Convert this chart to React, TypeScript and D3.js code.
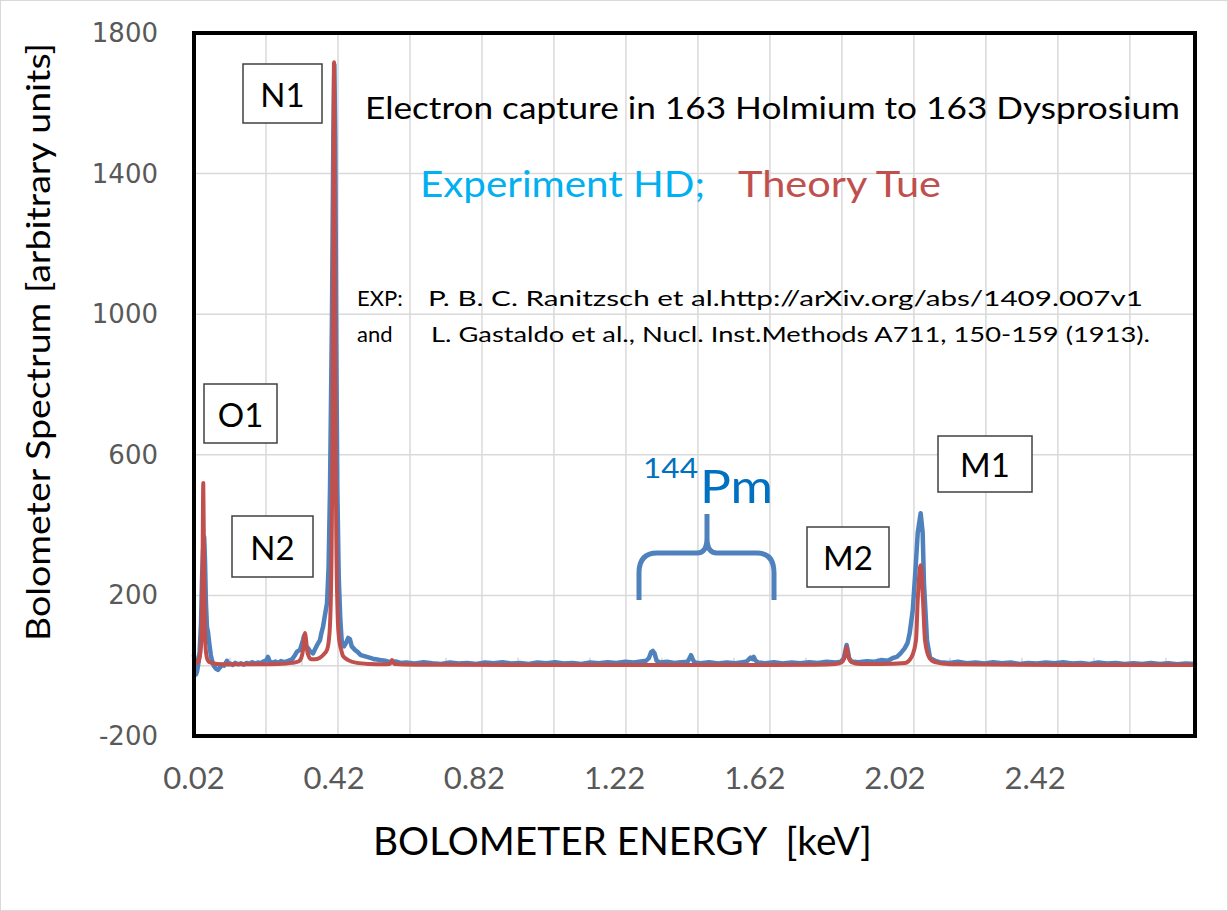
import * as d3 from 'd3';

// Experiment HD (blue) : [energy keV, counts]
const experimentHD: [number, number][] = [
  [0.020, 30], [0.0235, -10], [0.0257, -25], [0.029, -15], [0.033, 10], [0.036, 40],
  [0.040, 120], [0.043, 250], [0.046, 330], [0.049, 366], [0.0514, 300], [0.054, 180],
  [0.057, 110], [0.060, 95], [0.064, 60], [0.068, 30], [0.0714, 15], [0.076, 0],
  [0.082, -8], [0.0885, -12], [0.094, -5], [0.100, 2], [0.106, 0], [0.114, 14],
  [0.118, 4], [0.124, 6], [0.130, 2], [0.138, 8], [0.146, 4], [0.154, 7], [0.162, 3],
  [0.170, 8], [0.178, 5], [0.186, 10], [0.194, 6], [0.202, 9], [0.210, 7], [0.218, 12],
  [0.226, 15], [0.231, 25], [0.236, 12], [0.244, 9], [0.252, 12], [0.260, 8], [0.268, 13],
  [0.276, 10], [0.284, 12], [0.292, 15], [0.300, 18], [0.3025, 22], [0.308, 30],
  [0.314, 40], [0.3224, 45], [0.327, 60], [0.331, 73], [0.334, 85], [0.3367, 70],
  [0.340, 55], [0.3453, 50], [0.352, 40], [0.3595, 35], [0.366, 48], [0.372, 60],
  [0.3795, 73], [0.384, 95], [0.388, 110], [0.393, 140], [0.3995, 178], [0.404, 280],
  [0.408, 500], [0.4137, 1000], [0.4175, 1500], [0.4205, 1710], [0.423, 1500],
  [0.426, 900], [0.429, 500], [0.433, 250], [0.4375, 130], [0.4422, 60], [0.448, 55],
  [0.4537, 65], [0.460, 79], [0.465, 75], [0.470, 55], [0.4793, 45], [0.488, 38],
  [0.496, 30], [0.5136, 25], [0.530, 20], [0.5507, 16], [0.565, 14], [0.5792, 10],
  [0.595, 12], [0.610, 8], [0.625, 9], [0.650, 6], [0.675, 10], [0.700, 7], [0.725, 5],
  [0.750, 9], [0.775, 6], [0.800, 8], [0.825, 5], [0.850, 9], [0.875, 7], [0.900, 10],
  [0.925, 6], [0.950, 8], [0.975, 5], [1.000, 9], [1.025, 7], [1.050, 10], [1.075, 6],
  [1.100, 8], [1.125, 5], [1.150, 9], [1.175, 7], [1.200, 10], [1.225, 8], [1.250, 11],
  [1.275, 9], [1.295, 12], [1.310, 14], [1.318, 22], [1.324, 38], [1.329, 42],
  [1.334, 35], [1.340, 14], [1.350, 9], [1.370, 11], [1.390, 8], [1.410, 10], [1.428, 11],
  [1.434, 22], [1.438, 30], [1.442, 20], [1.448, 9], [1.465, 7], [1.490, 10], [1.515, 6],
  [1.540, 9], [1.565, 7], [1.585, 10], [1.597, 12], [1.603, 18], [1.608, 23], [1.613, 19],
  [1.617, 25], [1.622, 15], [1.630, 9], [1.650, 7], [1.675, 10], [1.700, 6], [1.725, 9],
  [1.750, 7], [1.775, 10], [1.800, 8], [1.825, 11], [1.850, 9], [1.866, 11], [1.874, 22],
  [1.879, 45], [1.882, 59], [1.885, 45], [1.889, 22], [1.896, 12], [1.915, 10],
  [1.940, 13], [1.960, 11], [1.980, 16], [2.000, 14], [2.014, 22], [2.0254, 25],
  [2.036, 35], [2.048, 50], [2.056, 65], [2.062, 93], [2.0707, 158], [2.079, 281],
  [2.0849, 378], [2.0933, 434], [2.099, 378], [2.1027, 235], [2.1113, 73], [2.120, 22],
  [2.135, 14], [2.148, 10], [2.175, 8], [2.200, 11], [2.225, 7], [2.250, 9], [2.275, 6],
  [2.300, 10], [2.325, 7], [2.350, 9], [2.375, 5], [2.400, 8], [2.425, 6], [2.450, 9],
  [2.475, 7], [2.500, 10], [2.525, 6], [2.550, 8], [2.575, 5], [2.600, 9], [2.625, 6],
  [2.650, 8], [2.675, 5], [2.700, 7], [2.725, 5], [2.750, 8], [2.775, 5], [2.800, 7],
  [2.825, 4], [2.850, 6], [2.876, 5],
];

// Theory Tue (red) : [energy keV, counts]
const theoryTue: [number, number][] = [
  [0.020, 30], [0.023, 14], [0.027, 8], [0.032, 10], [0.036, 22], [0.040, 55],
  [0.0425, 130], [0.0445, 300], [0.0465, 520], [0.0485, 300], [0.0505, 130],
  [0.053, 55], [0.057, 22], [0.062, 12], [0.070, 8], [0.085, 5], [0.12, 4], [0.20, 4],
  [0.26, 5], [0.30, 8], [0.318, 12], [0.326, 22], [0.331, 45], [0.3345, 80],
  [0.3367, 93], [0.339, 80], [0.3425, 45], [0.348, 25], [0.355, 18], [0.365, 18],
  [0.378, 22], [0.390, 32], [0.3995, 45], [0.405, 75], [0.409, 140], [0.412, 280],
  [0.415, 600], [0.417, 1100], [0.4194, 1717], [0.422, 1100], [0.424, 600],
  [0.427, 280], [0.430, 140], [0.434, 75], [0.440, 45], [0.445, 28], [0.460, 16],
  [0.485, 8], [0.52, 5], [0.56, 4], [0.578, 5], [0.582, 10], [0.5849, 16], [0.588, 10],
  [0.592, 5], [0.65, 3], [1.0, 2], [1.5, 2], [1.80, 3], [1.85, 5], [1.868, 10],
  [1.875, 20], [1.879, 38], [1.882, 53], [1.885, 38], [1.889, 20], [1.896, 10],
  [1.92, 5], [1.98, 5], [2.0485, 8], [2.0674, 25], [2.080, 73], [2.0849, 187],
  [2.0933, 286], [2.0999, 187], [2.1056, 73], [2.117, 25], [2.134, 10], [2.177, 4],
  [2.5, 2], [2.876, 2],
];

const xTickLabels = ['0.02', '0.42', '0.82', '1.22', '1.62', '2.02', '2.42'];
const yTickValues = [-200, 200, 600, 1000, 1400, 1800];

const W = 1228;
const H = 911;
const left = 194, right = 1195, top = 33, bottom = 736;
const gridStep = 0.2054;

const BLUE = '#4F81BD';
const RED = '#C0504D';
const GREY = '#595959';
const GRID = '#D9D9D9';
const FONT = 'Lato, "Open Sans", sans-serif';

const labelBoxes = [
  { text: 'N1', x: 243, y: 64, w: 79, h: 59 },
  { text: 'O1', x: 204, y: 384, w: 73, h: 59 },
  { text: 'N2', x: 232, y: 516, w: 81, h: 61 },
  { text: 'M2', x: 807, y: 527, w: 82, h: 60 },
  { text: 'M1', x: 938, y: 436, w: 94, h: 56 },
];

export default function App() {
  const x = d3.scaleLinear().domain([0.02, 2.876]).range([left, right]);
  const y = d3.scaleLinear().domain([-200, 1800]).range([bottom, top]);

  const gridX = d3.range(1, 14).map((k) => 0.02 + k * gridStep);
  const minorX = d3.range(0, 14).map((k) => 0.02 + (k + 0.5) * gridStep);

  const blueLine = d3.line<[number, number]>()
    .x((d) => x(d[0]))
    .y((d) => y(d[1]));
  const redLine = d3.line<[number, number]>()
    .x((d) => x(d[0]))
    .y((d) => y(d[1]))
    .curve(d3.curveMonotoneX);

  const brace =
    'M639,600 L639,573 Q639,553 657,553 L697,553 Q707,553 707,538 L707,514 ' +
    'M707,538 Q707,553 717,553 L757,553 Q774,553 774,573 L774,600';

  return (
    <div style={{ position: 'absolute', left: 0, top: 0 }}>
      <svg width={W} height={H} style={{ display: 'block', fontFamily: FONT }}>
        <rect x={0.5} y={0.5} width={W - 1} height={H - 1} fill="#fff" stroke={GRID} />

        {/* grid */}
        {gridX.map((g, i) => (
          <line key={'gx' + i} x1={x(g)} x2={x(g)} y1={top} y2={bottom} stroke={GRID} strokeWidth={1.5} />
        ))}
        {yTickValues.map((v) => (
          <line key={'gy' + v} x1={left} x2={right} y1={y(v)} y2={y(v)} stroke={GRID} strokeWidth={1.5} />
        ))}
        {/* category axis line at 0 */}
        <line x1={left} x2={right} y1={y(0)} y2={y(0)} stroke={GRID} strokeWidth={1.5} />
        {minorX.filter((m) => m < 2.876).map((m, i) => (
          <line key={'mt' + i} x1={x(m)} x2={x(m)} y1={y(0) - 8} y2={y(0)} stroke={GRID} strokeWidth={1.5} />
        ))}

        {/* series */}
        <path d={blueLine(experimentHD) || ''} fill="none" stroke={BLUE} strokeWidth={4.5} strokeLinejoin="round" strokeLinecap="round" />
        <path d={redLine(theoryTue) || ''} fill="none" stroke={RED} strokeWidth={4} strokeLinejoin="round" strokeLinecap="round" />

        {/* frame */}
        <rect x={left} y={top} width={right - left} height={bottom - top} fill="none" stroke="#000" strokeWidth={4} />

        {/* y ticks */}
        {yTickValues.map((v) => (
          <text key={'yt' + v} x={158} y={y(v)} textAnchor="end" dominantBaseline="central"
            fontFamily='"DejaVu Sans", sans-serif' fontSize={26} fill={GREY}>{v}</text>
        ))}
        {/* x ticks */}
        {xTickLabels.map((t) => (
          <text key={'xt' + t} x={x(+t)} y={789} textAnchor="middle" fontSize={31} fill={GREY}>{t}</text>
        ))}

        {/* axis titles */}
        <text x={373} y={855} fontSize={38} fill="#000" textLength={499} lengthAdjust="spacingAndGlyphs"
          style={{ whiteSpace: 'pre' }}>{'BOLOMETER ENERGY  [keV]'}</text>
        <text transform="translate(50,342) rotate(-90)" textAnchor="middle" fontSize={32} fill="#000"
          textLength={598} lengthAdjust="spacingAndGlyphs">Bolometer Spectrum [arbitrary units]</text>

        {/* annotations */}
        <text x={365} y={119} fontSize={30} fill="#000" textLength={815} lengthAdjust="spacingAndGlyphs">
          Electron capture in 163 Holmium to 163 Dysprosium
        </text>
        <text x={420} y={197} fontSize={37} fill="#00B0F0" textLength={285} lengthAdjust="spacingAndGlyphs">Experiment HD;</text>
        <text x={738} y={197} fontSize={37} fill={RED} textLength={203} lengthAdjust="spacingAndGlyphs">Theory Tue</text>

        <text x={357} y={306} fontSize={22} fill="#000">EXP:</text>
        <text x={428} y={306} fontSize={22} fill="#000" textLength={715} lengthAdjust="spacingAndGlyphs">
          P. B. C. Ranitzsch et al.http://arXiv.org/abs/1409.007v1
        </text>
        <text x={357} y={342} fontSize={22} fill="#000">and</text>
        <text x={431} y={342} fontSize={22} fill="#000" textLength={719} lengthAdjust="spacingAndGlyphs">
          L. Gastaldo et al., Nucl. Inst.Methods A711, 150-159 (1913).
        </text>

        {labelBoxes.map((b) => (
          <g key={b.text}>
            <rect x={b.x} y={b.y} width={b.w} height={b.h} fill="#fff" stroke="#404040" strokeWidth={1.5} />
            <text x={b.x + b.w / 2} y={b.y + b.h / 2} textAnchor="middle" dominantBaseline="central"
              fontSize={33} fill="#000">{b.text}</text>
          </g>
        ))}

        <text x={643} y={478} fontSize={27} fill="#0070C0" textLength={55} lengthAdjust="spacingAndGlyphs">144</text>
        <text x={700} y={503} fontSize={46} fill="#0070C0" textLength={73} lengthAdjust="spacingAndGlyphs">Pm</text>
        <path d={brace} fill="none" stroke={BLUE} strokeWidth={5} strokeLinecap="butt" />
      </svg>
    </div>
  );
}
